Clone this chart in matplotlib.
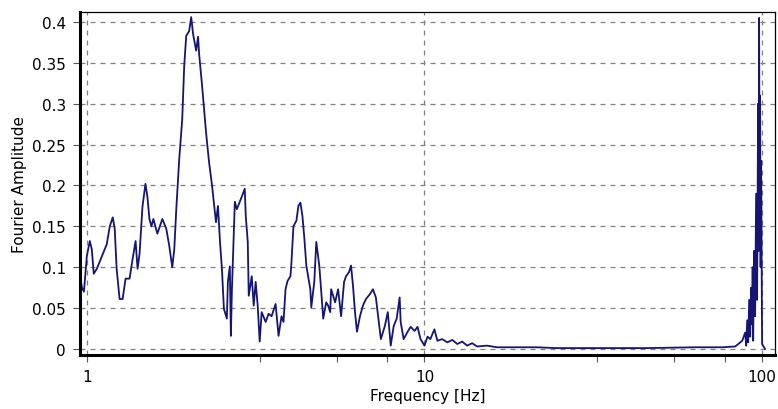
import numpy as np
import matplotlib.pyplot as plt
from matplotlib.ticker import FixedLocator, NullFormatter

# Fourier amplitude spectrum, frequency in Hz (log axis)
freq_hz = [
    0.954, 0.967, 0.980, 1.000, 1.020, 1.034, 1.048, 1.070, 1.145, 1.169,
    1.193, 1.209, 1.225, 1.250, 1.276, 1.302, 1.338, 1.366, 1.394, 1.413,
    1.432, 1.461, 1.491, 1.511, 1.532, 1.553, 1.574, 1.617, 1.673, 1.719,
    1.754, 1.790, 1.815, 1.840, 1.877, 1.916, 1.942, 1.969, 2.009, 2.037,
    2.064, 2.107, 2.135, 2.150, 2.194, 2.254, 2.300, 2.348, 2.412, 2.445,
    2.479, 2.512, 2.546, 2.598, 2.616, 2.651, 2.670, 2.688, 2.743, 2.781,
    2.856, 2.935, 2.955, 2.996, 3.016, 3.078, 3.120, 3.162, 3.206, 3.250,
    3.294, 3.385, 3.454, 3.525, 3.622, 3.696, 3.772, 3.823, 3.876, 3.929,
    4.009, 4.036, 4.091, 4.175, 4.232, 4.290, 4.349, 4.408, 4.467, 4.590,
    4.621, 4.716, 4.781, 4.879, 4.946, 5.012, 5.115, 5.185, 5.256, 5.291,
    5.436, 5.548, 5.662, 5.779, 5.857, 5.977, 6.059, 6.142, 6.225, 6.310,
    6.440, 6.572, 6.707, 6.892, 7.034, 7.178, 7.326, 7.426, 7.630, 7.786,
    7.943, 8.106, 8.272, 8.443, 8.500, 8.675, 8.913, 9.096, 9.346, 9.537,
    9.732, 10.00, 10.21, 10.41, 10.70, 10.92, 11.29, 11.68, 12.09, 12.51,
    12.93, 13.38, 13.84, 14.32, 15.32, 16.39, 18.77, 21.50, 24.62, 32.27,
    45.29, 63.55, 76.30, 83.28, 87.34, 89.13, 89.74, 90.35, 90.96, 91.58,
    92.20, 92.83, 93.46, 93.78, 94.09, 94.73, 95.37, 96.02, 96.67, 97.32,
    97.65, 97.99, 98.32, 98.65, 98.99, 99.33, 100.0, 102.0,
]
amplitude = [
    0.090, 0.075, 0.070, 0.114, 0.132, 0.122, 0.092, 0.098, 0.128, 0.150,
    0.161, 0.147, 0.098, 0.061, 0.061, 0.086, 0.086, 0.110, 0.132, 0.098,
    0.116, 0.174, 0.202, 0.186, 0.159, 0.150, 0.159, 0.141, 0.159, 0.147,
    0.126, 0.100, 0.122, 0.171, 0.232, 0.281, 0.346, 0.383, 0.389, 0.406,
    0.385, 0.365, 0.382, 0.361, 0.322, 0.265, 0.229, 0.200, 0.155, 0.175,
    0.131, 0.098, 0.049, 0.037, 0.082, 0.101, 0.016, 0.070, 0.180, 0.171,
    0.183, 0.196, 0.163, 0.131, 0.065, 0.089, 0.053, 0.082, 0.053, 0.009,
    0.045, 0.033, 0.043, 0.040, 0.055, 0.016, 0.040, 0.033, 0.073, 0.083,
    0.089, 0.106, 0.150, 0.157, 0.175, 0.179, 0.163, 0.135, 0.102, 0.073,
    0.051, 0.082, 0.131, 0.102, 0.070, 0.037, 0.057, 0.053, 0.045, 0.073,
    0.057, 0.073, 0.040, 0.082, 0.089, 0.094, 0.102, 0.077, 0.045, 0.021,
    0.040, 0.053, 0.061, 0.067, 0.073, 0.063, 0.033, 0.012, 0.028, 0.045,
    0.004, 0.028, 0.037, 0.063, 0.033, 0.012, 0.021, 0.027, 0.022, 0.027,
    0.012, 0.004, 0.015, 0.012, 0.024, 0.010, 0.012, 0.008, 0.011, 0.006,
    0.009, 0.004, 0.007, 0.003, 0.004, 0.002, 0.002, 0.002, 0.001, 0.001,
    0.001, 0.002, 0.002, 0.003, 0.010, 0.020, 0.004, 0.035, 0.008, 0.060,
    0.015, 0.075, 0.030, 0.100, 0.010, 0.120, 0.040, 0.190, 0.060, 0.300,
    0.120, 0.405, 0.200, 0.310, 0.100, 0.230, 0.006, 0.000,
]
assert len(freq_hz) == len(amplitude)

x_major = [1, 10, 100]
x_minor = [3.25, 5.5, 7.75, 32.5, 55, 77.5]
y_ticks = [0, 0.05, 0.1, 0.15, 0.2, 0.25, 0.3, 0.35, 0.4]
y_labels = ['0', '0.05', '0.1', '0.15', '0.2', '0.25', '0.3', '0.35', '0.4']

plt.rcParams['font.family'] = 'DejaVu Sans'
plt.rcParams['font.size'] = 11

fig = plt.figure(figsize=(7.78, 4.10), dpi=100)
ax = fig.add_axes([0.1028, 0.132, 0.8935, 0.837])

ax.plot(freq_hz, amplitude, color='#151575', lw=1.3)

ax.set_xscale('log')
ax.set_xlim(0.954, 109.3)
ax.set_ylim(-0.0073, 0.4126)

ax.xaxis.set_major_locator(FixedLocator(x_major))
ax.set_xticklabels(['1', '10', '100'])
ax.xaxis.set_minor_locator(FixedLocator(x_minor))
ax.xaxis.set_minor_formatter(NullFormatter())
ax.set_yticks(y_ticks)
ax.set_yticklabels(y_labels)

ax.tick_params(axis='both', which='both', direction='out', length=5,
               width=0.8, color='#555555')
ax.tick_params(axis='x', pad=5)
ax.tick_params(axis='y', pad=5)

ax.grid(True, which='major', color='#808080', linestyle=(0, (4, 4)), lw=0.9)

for side in ['left', 'bottom']:
    ax.spines[side].set_linewidth(2.2)
for side in ['top', 'right']:
    ax.spines[side].set_linewidth(0.9)

ax.set_xlabel('Frequency [Hz]', labelpad=3)
ax.set_ylabel('Fourier Amplitude', labelpad=3.5)

fig.savefig('out.png', dpi=100)
